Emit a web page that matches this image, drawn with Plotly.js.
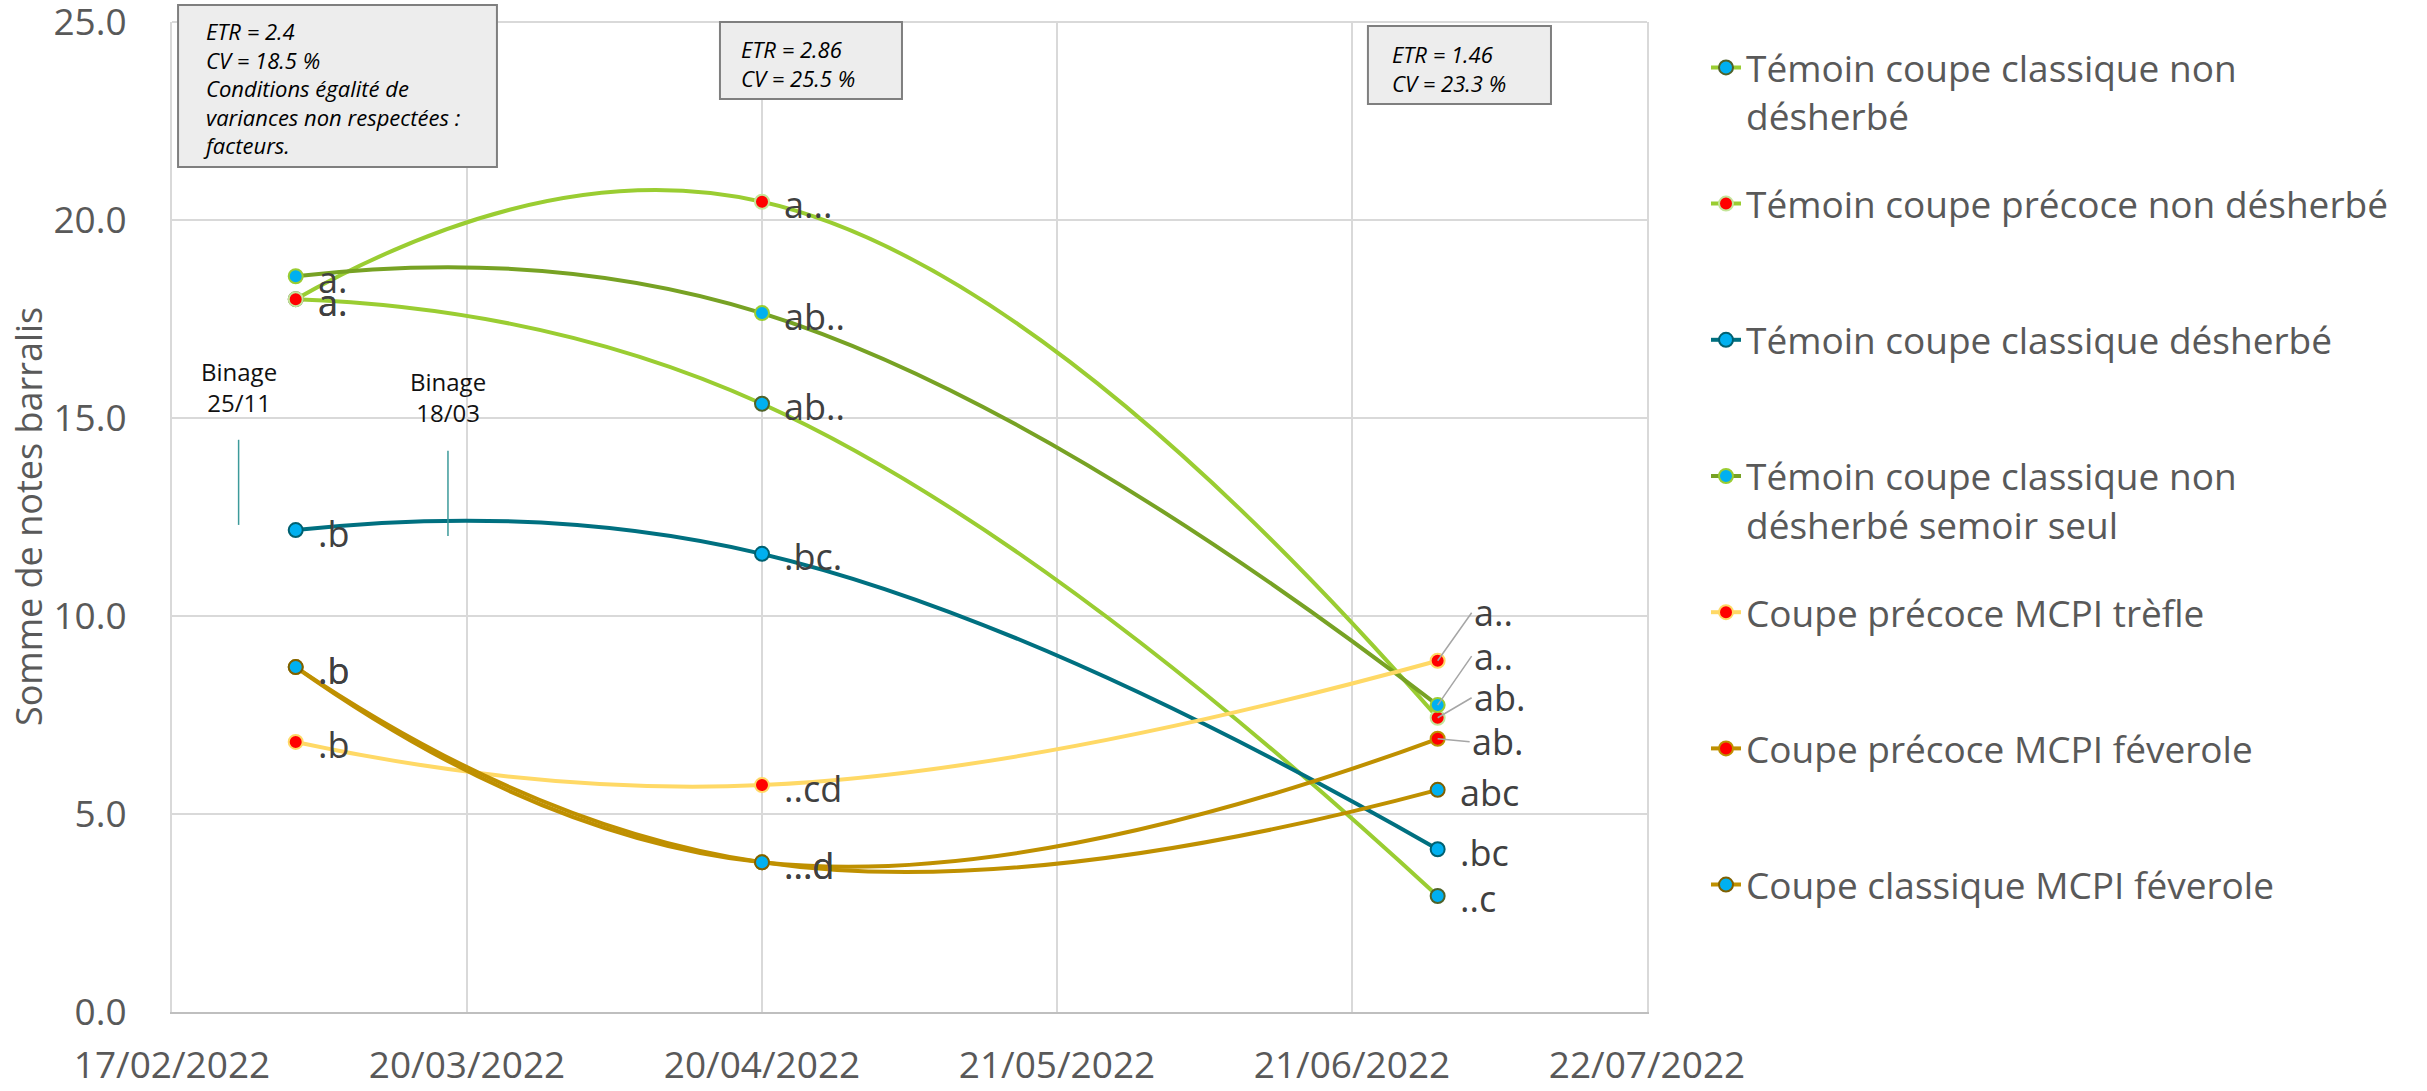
<!DOCTYPE html>
<html><head><meta charset="utf-8">
<script src="https://cdn.plot.ly/plotly-3.0.1.min.js"></script>
<style>html,body{margin:0;padding:0;background:#fff}#chart{width:2427px;height:1091px}</style>
</head><body><div id="chart"></div>
<script>
// ---------- DATA ----------
const dates = ['2022-03-02', '2022-04-20', '2022-06-30'];
const seriesNames = [
  'Témoin coupe classique non<br>désherbé',
  'Témoin coupe précoce non désherbé',
  'Témoin coupe classique désherbé',
  'Témoin coupe classique non<br>désherbé semoir seul',
  'Coupe précoce MCPI trèfle',
  'Coupe précoce MCPI féverole',
  'Coupe classique MCPI féverole'
];
const valClassiqueNonDesherbe = [18.0, 15.36, 2.93];
const valPrecoceNonDesherbe   = [18.0, 20.46, 7.43];
const valClassiqueDesherbe    = [12.17, 11.57, 4.11];
const valSemoirSeul           = [18.58, 17.65, 7.75];
const valTrefle               = [6.82, 5.73, 8.87];
const valPrecoceFeverole      = [8.71, 3.78, 6.90];
const valClassiqueFeverole    = [8.71, 3.78, 5.61];

const lblClassiqueNonDesherbe = ['a.', 'ab..', '..c'];
const lblPrecoceNonDesherbe   = ['a.', 'a...', 'ab.'];
const lblClassiqueDesherbe    = ['.b', '.bc.', '.bc'];
const lblSemoirSeul           = ['a.', 'ab..', 'a..'];
const lblTrefle               = ['.b', '..cd', 'a..'];
const lblPrecoceFeverole      = ['.b', '...d', 'ab.'];
const lblClassiqueFeverole    = ['.b', '...d', 'abc'];

const statBoxes = [
  'ETR = 2.4<br>CV = 18.5 %<br>Conditions égalité de<br>variances non respectées :<br>facteurs.',
  'ETR = 2.86<br>CV = 25.5 %',
  'ETR = 1.46<br>CV = 23.3 %'
];
const binageTexts = ['Binage<br>25/11', 'Binage<br>18/03'];
const binageDates = ['2022-02-24', '2022-03-18'];
const yTitle = 'Somme de notes barralis';

// ---------- STYLE ----------
const values = [valClassiqueNonDesherbe, valPrecoceNonDesherbe, valClassiqueDesherbe, valSemoirSeul, valTrefle, valPrecoceFeverole, valClassiqueFeverole];
const labels = [lblClassiqueNonDesherbe, lblPrecoceNonDesherbe, lblClassiqueDesherbe, lblSemoirSeul, lblTrefle, lblPrecoceFeverole, lblClassiqueFeverole];
const lineColors = ['#9ACD32', '#9ACD32', '#007080', '#77A224', '#FFD966', '#BF9000', '#BF9000'];
const markerFill = ['#00B0F0', '#FF0000', '#00B0F0', '#00B0F0', '#FF0000', '#FF0000', '#00B0F0'];
const markerLine = ['#4F6228', '#C4E59A', '#006070', '#9ACD32', '#FFD966', '#BF9000', '#7F6000'];
// leader lines for July labels: [ax, ay] pixel offsets
const leaders = {4: [34, -48], 3: [34, -49], 1: [34, -20], 5: [32, 3]};

const FONT = 'Open Sans, Noto Sans, sans-serif';
const traces = values.map((v, i) => ({
  type: 'scatter', mode: 'lines+markers', x: dates, y: v,
  name: seriesNames[i].indexOf('<br>') >= 0 ? seriesNames[i] : seriesNames[i] + '<br>\u00a0',
  legendgroup: 'g' + i,
  line: {color: lineColors[i], width: 4, shape: 'spline', smoothing: 1.3},
  marker: {size: 14, color: markerFill[i], line: {color: markerLine[i], width: 2}},
  hoverinfo: 'x+y'
}));

const annotations = [];
labels.forEach((arr, i) => {
  arr.forEach((t, j) => {
    const base = {x: dates[j], y: values[i][j], xref: 'x', yref: 'y', text: t,
      font: {family: FONT, size: 36, color: '#404040'}, xanchor: 'left', yanchor: 'middle'};
    if (j === 2 && leaders[i]) {
      Object.assign(base, {showarrow: true, arrowhead: 0, arrowwidth: 1.5, arrowcolor: '#A6A6A6',
        ax: leaders[i][0], ay: leaders[i][1], standoff: 0, startstandoff: 0});
    } else {
      Object.assign(base, {showarrow: false, xshift: 20, yshift: -3});
    }
    annotations.push(base);
  });
});
// stat boxes: rectangles + text (paper coordinates of the plot area)
const boxRects = [
  {x0: 0.0041, x1: 0.2203, y0: 0.8535, y1: 1.0172},
  {x0: 0.3715, x1: 0.4949, y0: 0.9222, y1: 1.0},
  {x0: 0.8108, x1: 0.9349, y0: 0.9172, y1: 0.9960}
];
const boxText = [{x: 0.0197, y: 1.008}, {x: 0.3844, y: 0.9899}, {x: 0.8258, y: 0.9848}];
statBoxes.forEach((t, k) => {
  annotations.push({xref: 'paper', yref: 'paper', x: boxText[k].x, y: boxText[k].y, xanchor: 'left', yanchor: 'top',
    text: t, showarrow: false, align: 'left',
    font: {family: FONT, size: 22, color: '#000000', style: 'italic'}});
});
// binage texts
const binageY = [0.631, 0.621];
binageTexts.forEach((t, k) => {
  annotations.push({xref: 'x', yref: 'paper', x: binageDates[k], y: binageY[k], text: t, showarrow: false,
    xanchor: 'center', yanchor: 'middle', align: 'center',
    font: {family: FONT, size: 24, color: '#111111'}});
});
// y title
annotations.push({xref: 'paper', yref: 'paper', x: -0.0976, y: 0.5, text: yTitle, showarrow: false,
  textangle: -90, xanchor: 'center', yanchor: 'middle', font: {family: FONT, size: 36, color: '#595959'}});

const binageYs = [[12.30, 14.45], [12.02, 14.17]];
const shapes = binageDates.map((d, k) => ({type: 'line', xref: 'x', yref: 'y', x0: d, x1: d,
  y0: binageYs[k][0], y1: binageYs[k][1], line: {color: '#3C9A9A', width: 1.5}}));
// top frame line of the plot area
shapes.push({type: 'line', xref: 'paper', yref: 'paper', x0: 0, x1: 1, y0: 1, y1: 1,
  line: {color: '#D9D9D9', width: 2}, layer: 'below'});
boxRects.forEach(r => shapes.push({type: 'rect', xref: 'paper', yref: 'paper', x0: r.x0, x1: r.x1, y0: r.y0, y1: r.y1,
  fillcolor: '#EDEDED', line: {color: '#7F7F7F', width: 2}, layer: 'above'}));

const layout = {
  width: 2427, height: 1091,
  margin: {l: 172, r: 780, t: 22, b: 79},
  paper_bgcolor: '#ffffff', plot_bgcolor: '#ffffff',
  font: {family: FONT, color: '#595959'},
  showlegend: true,
  legend: {x: 1.040, y: 0.985, xanchor: 'left', yanchor: 'top', valign: 'top', traceorder: 'grouped',
    tracegroupgap: 37, font: {family: FONT, size: 37, color: '#595959'}, bgcolor: 'rgba(0,0,0,0)'},
  xaxis: {type: 'date', range: ['2022-02-17', '2022-07-22'], tick0: '2022-02-17', dtick: 31 * 86400000,
    tickformat: '%d/%m/%Y', showgrid: true, gridcolor: '#D9D9D9', gridwidth: 2,
    showline: true, linecolor: '#BFBFBF', linewidth: 2, ticks: '', ticklabelstandoff: 20,
    ticklabeloverflow: 'allow',
    tickfont: {family: FONT, size: 37, color: '#595959'}, zeroline: false, fixedrange: true},
  yaxis: {range: [0, 25], dtick: 5, tick0: 0, tickformat: '.1f', showgrid: true, gridcolor: '#D9D9D9', gridwidth: 2,
    showline: true, mirror: true, linecolor: '#D9D9D9', linewidth: 2, zeroline: false, ticks: '', ticklabelstandoff: 36,
    ticklabeloverflow: 'allow',
    tickfont: {family: FONT, size: 37, color: '#595959'}, fixedrange: true},
  annotations: annotations,
  shapes: shapes
};
Plotly.newPlot('chart', traces, layout, {displayModeBar: false, staticPlot: true});
</script>
</body></html>
